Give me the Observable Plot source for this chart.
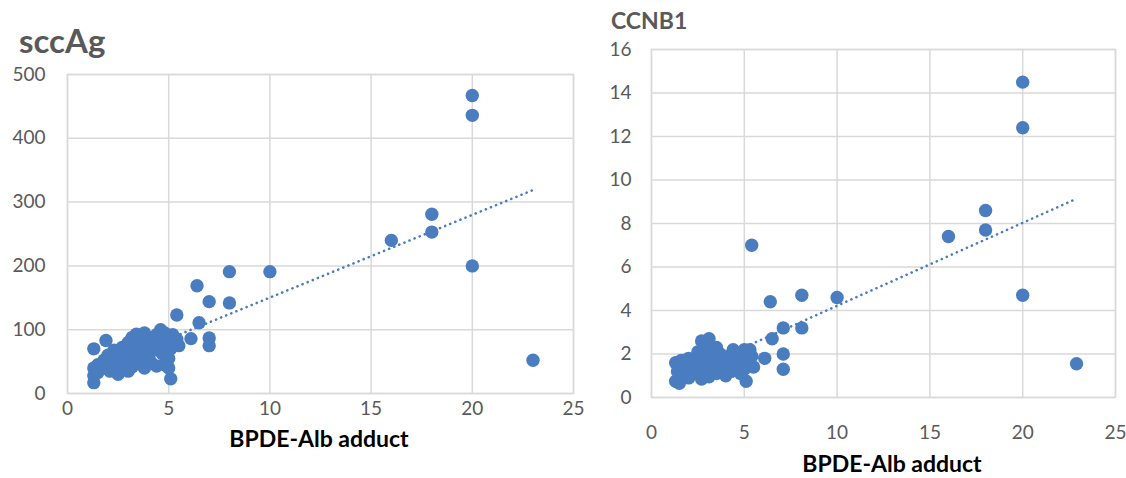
<!DOCTYPE html>
<html><head><meta charset="utf-8">
<script src="https://cdn.jsdelivr.net/npm/d3@7"></script>
<script src="https://cdn.jsdelivr.net/npm/@observablehq/plot@0.6"></script>
<style>
html,body{margin:0;padding:0;background:#fff;}
#wrap{position:relative;width:1126px;height:478px;overflow:hidden;font-family:Lato,"Open Sans",sans-serif;}
.pl{position:absolute;top:0;}
.t{position:absolute;white-space:nowrap;font-weight:bold;line-height:1.1;}
</style></head>
<body><div id="wrap"></div>
<script>
// shared x (BPDE-Alb adduct) values, and the two series
const sccX = [1.3,1.3,1.3,1.3,1.5,1.5,1.9,1.8,1.8,2.0,2.1,2.1,2.3,2.3,2.4,2.5,2.5,2.6,2.7,2.7,2.8,2.9,3.0,3.0,3.0,3.1,3.2,3.2,3.3,3.3,3.4,3.5,3.5,3.6,3.6,3.7,3.8,3.8,3.9,4.0,4.0,4.1,4.2,4.3,4.4,4.4,4.5,4.6,4.6,4.7,4.8,4.8,4.9,5.0,5.0,5.0,5.1,5.1,5.2,5.3,5.4,5.5,5.4,6.1,6.4,6.5,7.0,7.0,7.0,8.0,8.0,10,16,18,18,20,20,20,23];
const sccY = [70,40,17,28,45,33,83,52,40,60,45,35,55,68,42,30,62,50,72,38,58,45,80,65,35,52,88,42,70,60,93,48,78,65,55,85,95,40,72,60,88,50,80,68,92,43,75,85,100,62,95,45,78,88,55,40,23,70,92,80,85,75,123,86,169,111,144,87,75,191,142,191,240,281,253,467,436,200,52];
const ccnX = [1.3,1.3,1.4,1.5,1.6,1.7,1.8,2.0,2.0,2.2,2.3,2.4,2.5,2.6,2.7,2.7,2.8,2.9,3.0,3.0,3.1,3.1,3.2,3.3,3.4,3.5,3.5,3.6,3.7,3.8,3.9,4.0,4.1,4.2,4.3,4.4,4.5,4.6,4.7,4.8,4.9,5.0,5.0,5.1,5.2,5.3,5.4,5.5,5.4,6.1,6.4,6.5,7.1,7.1,7.1,8.1,8.1,10,16,18,18,20,20,20,22.9];
const ccnY = [1.6,0.75,1.2,0.65,1.7,1.0,1.4,1.8,0.9,1.3,1.6,1.1,2.1,1.5,2.6,0.85,1.9,1.2,2.4,1.6,2.7,0.95,2.0,1.4,1.8,2.3,1.1,1.6,2.0,1.3,1.7,1.0,1.5,1.9,1.2,2.2,1.6,1.4,2.0,1.1,1.8,2.2,1.3,0.75,1.6,2.2,1.9,1.4,7.0,1.8,4.4,2.7,3.2,2.0,1.3,4.7,3.2,4.6,7.4,8.6,7.7,14.5,12.4,4.7,1.55];
const xTicks = [0,5,10,15,20,25];
const sccTicks = [0,100,200,300,400,500];
const ccnTicks = [0,2,4,6,8,10,12,14,16];
const titles = ["sccAg","CCNB1"];
const xLabel = "BPDE-Alb adduct";

const DOT = "#4a7cc0", GRID = "#d9d9d9", TICK = "#595959";
const wrap = document.getElementById("wrap");

function panel(xs, ys, yTicks, opt) {
  const data = xs.map((x,i)=>({x, y: ys[i]}));
  const p = Plot.plot({
    width: opt.width, height: 478,
    marginLeft: opt.ml, marginRight: opt.mr, marginTop: opt.mt, marginBottom: opt.mb,
    style: {fontFamily: "Lato, 'Open Sans', sans-serif", fontSize: "19px", color: TICK, background: "transparent", overflow: "visible"},
    x: {domain: [0,25], ticks: xTicks},
    y: {domain: [yTicks[0], yTicks[yTicks.length-1]], ticks: yTicks},
    marks: [
      Plot.gridX(xTicks, {stroke: GRID, strokeOpacity: 1, strokeWidth: 1.5}),
      Plot.gridY(yTicks, {stroke: GRID, strokeOpacity: 1, strokeWidth: 1.5}),
      Plot.frame({stroke: GRID, strokeWidth: 1.5}),
      Plot.axisX(xTicks, {tickSize: 0, tickPadding: opt.xpad, fill: TICK, fontSize: 19, label: null}),
      Plot.axisY(yTicks, {tickSize: 0, tickPadding: opt.ypad, fill: TICK, fontSize: 19, label: null}),
      Plot.linearRegressionY(data, {x: "x", y: "y", ci: 0, stroke: DOT, strokeWidth: 2.6, strokeDasharray: "0.1,5.4", strokeLinecap: "round"}),
      Plot.dot(data, {x: "x", y: "y", r: 6.7, fill: DOT, stroke: "none"})
    ]
  });
  p.classList.add("pl");
  p.style.left = opt.left + "px";
  wrap.appendChild(p);
}

panel(sccX, sccY, sccTicks, {left: 0, width: 600, ml: 67, mr: 27, mt: 74, mb: 85, xpad: 8, ypad: 22});
panel(ccnX, ccnY, ccnTicks, {left: 590, width: 536, ml: 61, mr: 11, mt: 49, mb: 81, xpad: 28, ypad: 20});

function text(s, left, top, size, color, center) {
  const d = document.createElement("div");
  d.className = "t";
  d.textContent = s;
  d.style.left = left + "px"; d.style.top = top + "px";
  d.style.fontSize = size + "px"; d.style.color = color;
  if (center) d.style.transform = "translateX(-50%)";
  wrap.appendChild(d);
}
text(titles[0], 19, 22, 33, "#595959", false);
text(titles[1], 611, 8, 23, "#595959", false);
text(xLabel, 319, 426, 23, "#000", true);
text(xLabel, 892, 451, 23, "#000", true);
</script></body></html>
